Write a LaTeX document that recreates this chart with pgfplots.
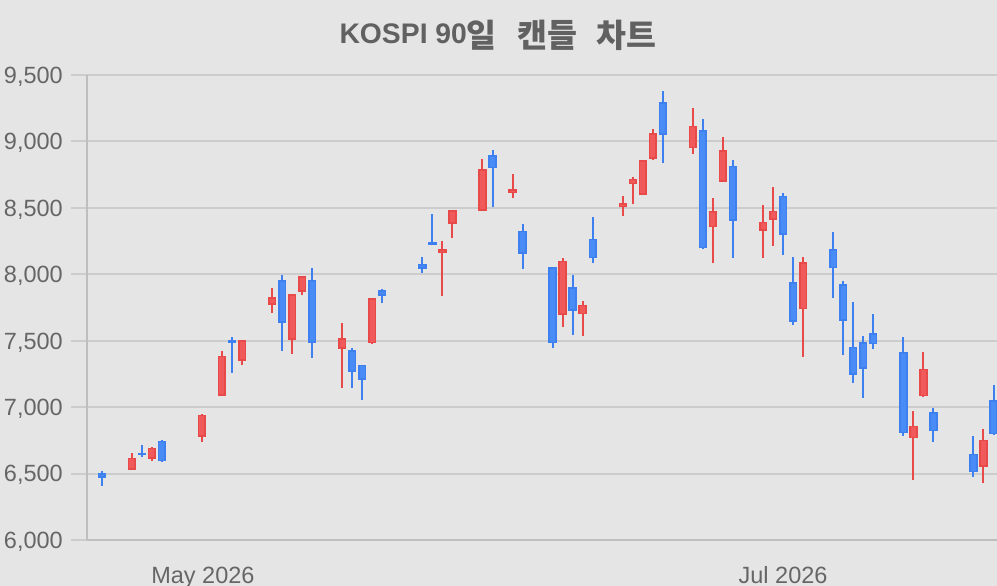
\documentclass[border=0pt]{standalone}
\usepackage{fontspec}
\setmainfont{Liberation Sans}
\newfontfamily\krfont{Noto Sans CJK KR}
\usepackage{pgfplots}
\usepackage{pgfplotstable}
\pgfplotsset{compat=1.18}
\definecolor{bg}{RGB}{229,229,229}
\definecolor{gridc}{RGB}{204,204,204}
\definecolor{axisc}{RGB}{190,190,190}
\definecolor{txt}{RGB}{102,102,102}
\definecolor{ttl}{RGB}{97,97,97}
\definecolor{upline}{RGB}{232,74,74}
\definecolor{upfill}{RGB}{240,90,90}
\definecolor{dnline}{RGB}{62,128,240}
\definecolor{dnfill}{RGB}{74,140,246}

% rising candles (close > open)
\pgfplotstableread{
x o h l c
3 6528 6654 6525 6618
5 6613 6700 6598 6696
10 6776 6945 6741 6942
12 7087 7423 7085 7388
14 7348 7507 7320 7504
17 7769 7897 7711 7827
19 7506 7853 7400 7850
20 7867 7990 7842 7987
24 7438 7636 7142 7521
27 7481 7822 7478 7819
34 8158 8250 7840 8190
35 8378 8484 8270 8481
38 8479 8871 8476 8790
41 8614 8755 8577 8641
46 7694 8120 7601 8102
48 7699 7797 7536 7771
52 8504 8587 8437 8537
53 8678 8735 8527 8718
54 8600 8860 8593 8857
55 8870 9093 8862 9063
59 8948 9248 8905 9118
61 8355 8573 8083 8475
62 8698 9034 8695 8934
66 8328 8521 8125 8396
67 8408 8660 8216 8479
70 7737 8133 7380 8090
81 6766 6970 6453 6859
82 7081 7416 7078 7289
88 6549 6834 6429 6754
}\up

% falling candles (close < open)
\pgfplotstableread{
x o h l c
0 6503 6521 6408 6470
4 6654 6714 6623 6636
6 6746 6750 6590 6593
13 7506 7526 7260 7486
18 7957 7997 7423 7636
21 7957 8045 7373 7486
25 7430 7443 7142 7267
26 7318 7320 7054 7205
28 7882 7887 7782 7839
32 8075 8128 8008 8040
33 8245 8453 8220 8223
39 8896 8933 8503 8798
42 8328 8378 8038 8155
45 8053 8056 7443 7481
47 7902 7995 7544 7726
49 8268 8430 8083 8120
56 9294 9381 8835 9048
60 9083 9169 8192 8195
63 8818 8861 8125 8403
68 8591 8614 8145 8295
69 7940 8133 7619 7643
73 8188 8320 7819 8045
74 7925 7950 7393 7651
75 7455 7789 7183 7242
76 7488 7538 7068 7288
77 7555 7701 7435 7473
80 7413 7526 6783 6803
83 6964 6991 6735 6819
87 6648 6781 6473 6511
89 7054 7165 6790 6796
}\down

\begin{document}
\begin{tikzpicture}
\fill[bg] (0pt,0pt) rectangle (997pt,586pt);
\begin{axis}[
  at={(87pt,46pt)}, anchor=south west,
  scale only axis, width=910pt, height=465pt,
  xmin=-1.47, xmax=89.35, ymin=6000, ymax=9500,
  axis lines*=left,
  axis line style={-, draw=axisc, line width=2pt},
  tick align=outside,
  major tick length=16pt,
  ytick={6000,6500,7000,7500,8000,8500,9000,9500},
  yticklabels={{6,000},{6,500},{7,000},{7,500},{8,000},{8,500},{9,000},{9,500}},
  xtick={10.1,68},
  xticklabels={May 2026,Jul 2026},
  ytick style={draw=gridc, line width=2pt},
  xtick style={draw=none},
  ymajorgrids,
  grid style={draw=gridc, line width=2pt},
  ticklabel style={font=\fontsize{23.5}{28}\selectfont, text=txt},
  yticklabel style={anchor=base east, inner sep=0pt, xshift=-8pt, yshift=-8.4pt},
  xticklabel style={anchor=base, inner sep=0pt, yshift=-28pt},
  clip=true,
]
% wicks
\addplot[draw=none, mark=none, forget plot,
  error bars/.cd, y dir=plus, y explicit, error mark=none,
  error bar style={draw=upline, line width=2pt}]
  table[x=x, y=l, y error plus expr=\thisrow{h}-\thisrow{l}] {\up};
\addplot[draw=none, mark=none, forget plot,
  error bars/.cd, y dir=plus, y explicit, error mark=none,
  error bar style={draw=dnline, line width=2pt}]
  table[x=x, y=l, y error plus expr=\thisrow{h}-\thisrow{l}] {\down};
% bodies
\addplot[draw=none, mark=none, forget plot,
  error bars/.cd, y dir=plus, y explicit, error mark=none,
  error bar style={draw=upline, line width=8.4pt}]
  table[x=x, y=o, y error plus expr=\thisrow{c}-\thisrow{o}] {\up};
\addplot[draw=none, mark=none, forget plot,
  error bars/.cd, y dir=plus, y explicit, error mark=none,
  error bar style={draw=dnline, line width=8.4pt}]
  table[x=x, y=c, y error plus expr=\thisrow{o}-\thisrow{c}] {\down};
% body interiors
\addplot[draw=none, mark=none, forget plot,
  error bars/.cd, y dir=plus, y explicit, error mark=none,
  error bar style={draw=upfill, line width=5pt}]
  table[x=x, y expr=\thisrow{o}+12, y error plus expr={max(\thisrow{c}-\thisrow{o}-24,0)}] {\up};
\addplot[draw=none, mark=none, forget plot,
  error bars/.cd, y dir=plus, y explicit, error mark=none,
  error bar style={draw=dnfill, line width=5pt}]
  table[x=x, y expr=\thisrow{c}+12, y error plus expr={max(\thisrow{o}-\thisrow{c}-24,0)}] {\down};
\end{axis}
\node[anchor=base, text=ttl, inner sep=0pt] at (498pt,542.7pt)
  {\fontsize{28.3}{32}\selectfont\bfseries KOSPI 90\raisebox{-4pt}{\fontsize{32.5}{36}\selectfont\krfont 일}\hspace{21pt}\raisebox{-4pt}{\fontsize{32.5}{36}\selectfont\krfont 캔들}\hspace{19pt}\raisebox{-4pt}{\fontsize{32.5}{36}\selectfont\krfont 차트}};
\pgfresetboundingbox
\useasboundingbox (0pt,0pt) rectangle (997pt,586pt);
\end{tikzpicture}
\end{document}
